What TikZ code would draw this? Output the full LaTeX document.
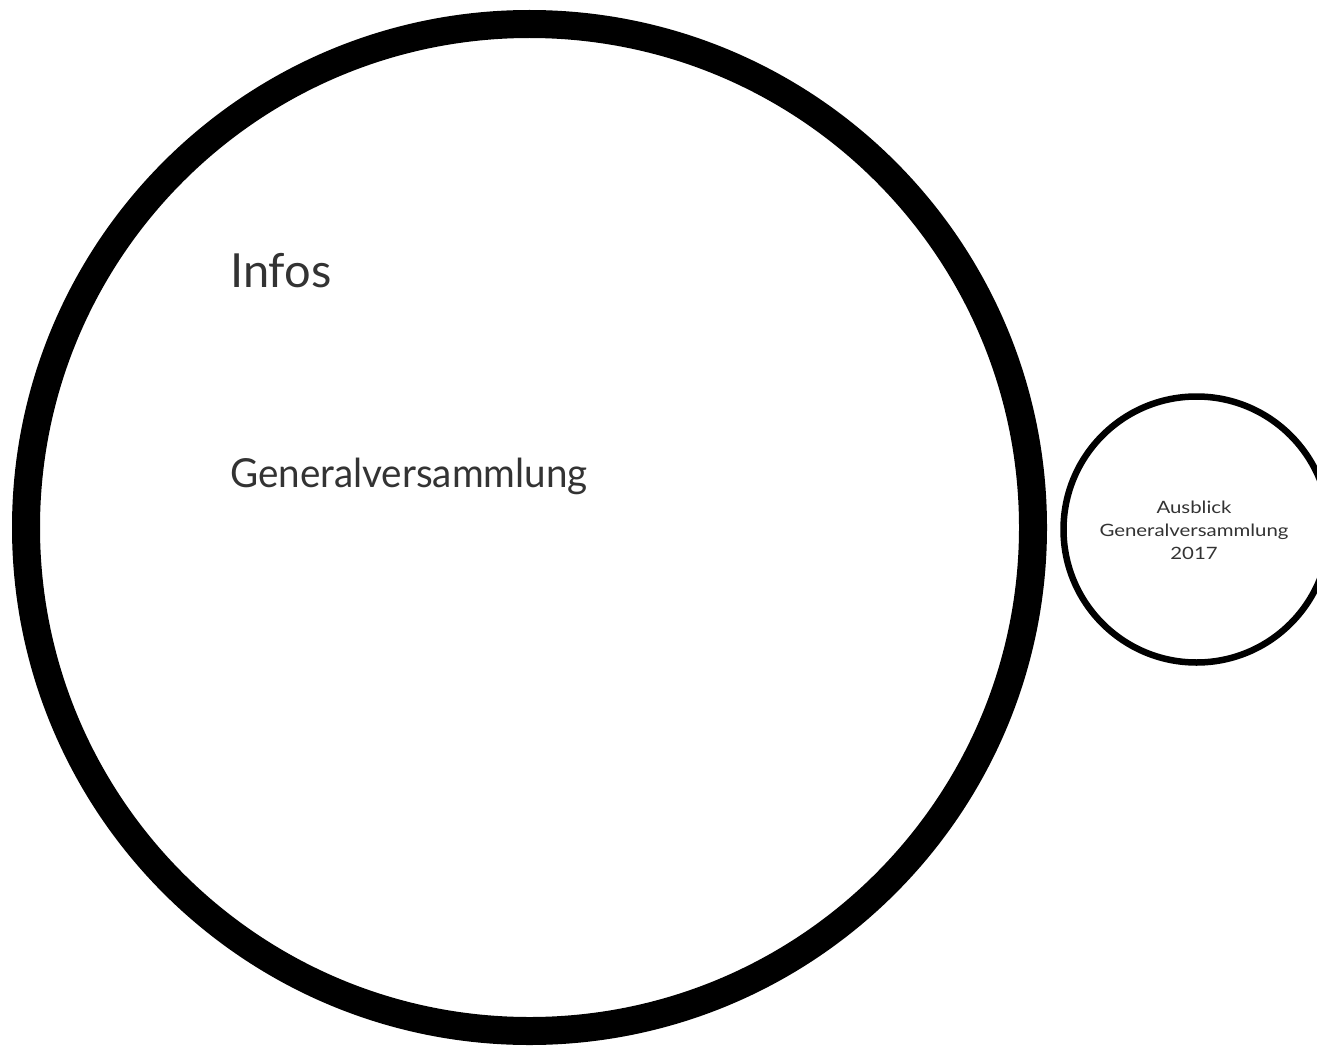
\documentclass[tikz,border=0pt]{standalone}
\usepackage{fontspec}
\setmainfont{Lato}
\newfontfamily\narrowlato[FakeStretch=0.965]{Lato}
\newfontfamily\widelato[FakeStretch=1.2]{Lato}
\definecolor{txt}{HTML}{333333}
\begin{document}
\begin{tikzpicture}[x=1pt,y=-1pt,
  bigring/.style={circle,draw=black,line width=28pt,minimum size=1007pt,inner sep=0pt},
  smallring/.style={circle,draw=black,line width=6.5pt,minimum size=266pt,inner sep=0pt},
  lbl/.style={text=txt,inner sep=0pt,anchor=base west}]
\useasboundingbox (0,0) rectangle (1317,1046);
\node[bigring] (big) at (529.5,527.5) {};
\node[smallring] (small) at (1196.5,529.5) {};
\node[lbl,font=\fontsize{47}{56}\selectfont] (infos) at (230,287) {Infos};
\node[lbl,font=\narrowlato\fontsize{40}{48}\selectfont] (gv) at (230,487) {Generalversammlung};
\node[text=txt,inner sep=0pt,align=center,font=\widelato\fontsize{17}{23}\selectfont] (aus) at (1194,530) {Ausblick\\Generalversammlung\\2017};
\end{tikzpicture}
\end{document}
